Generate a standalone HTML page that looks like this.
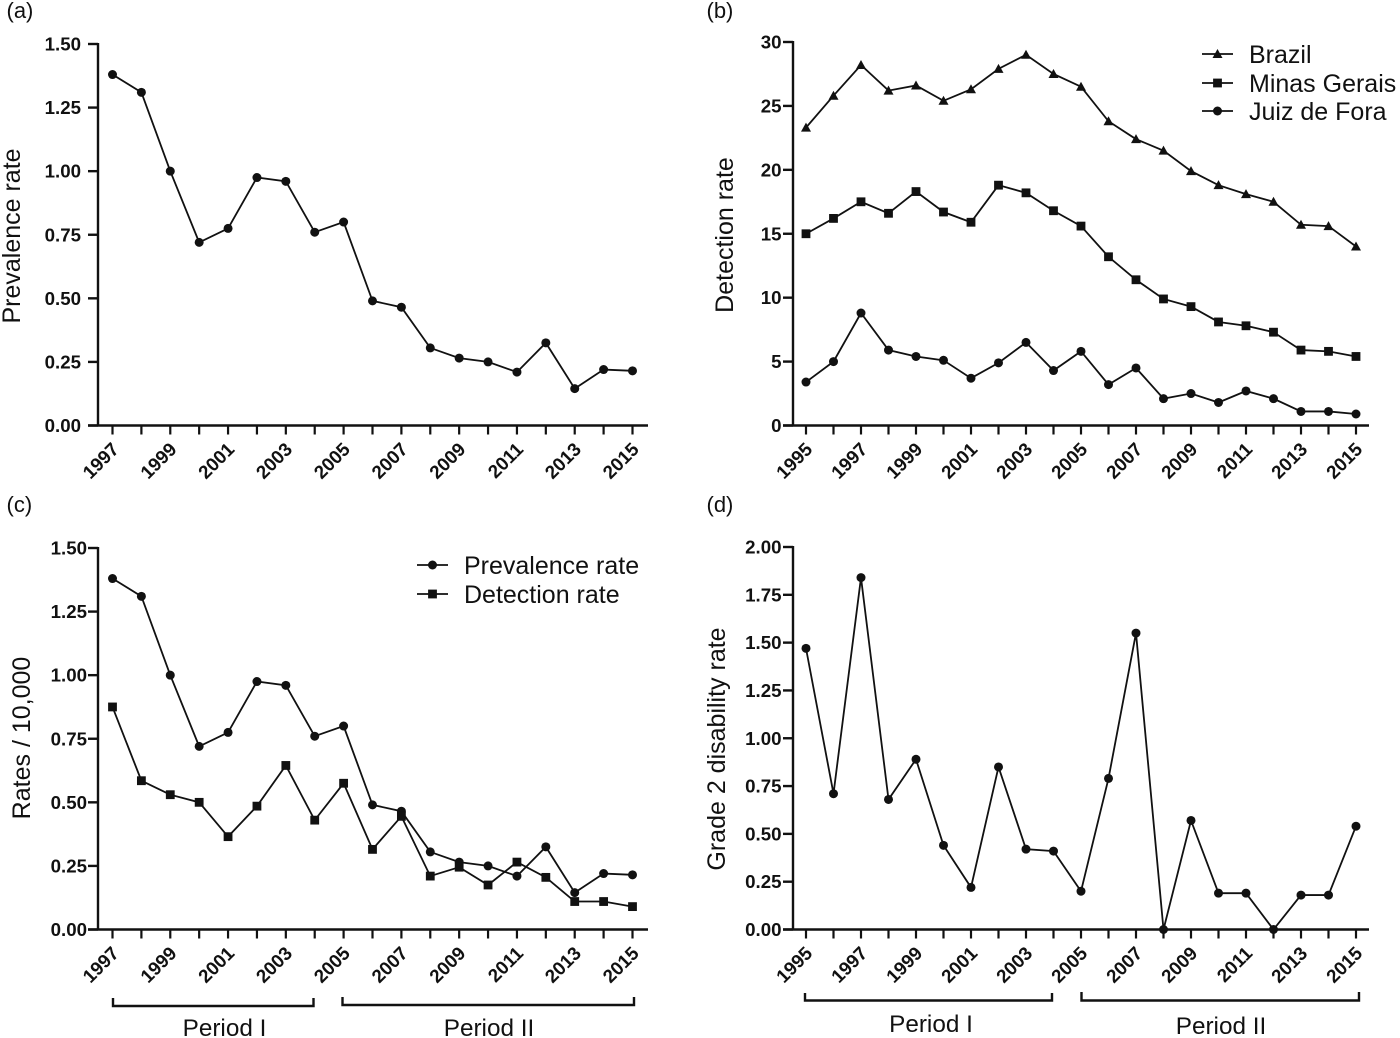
<!DOCTYPE html>
<html lang="en">
<head>
<meta charset="utf-8">
<title>Leprosy rates, four-panel chart</title>
<style>
html,body{margin:0;padding:0;background:#fff;width:1400px;height:1038px;overflow:hidden}
svg{display:block}
text{font-family:"Liberation Sans",sans-serif;fill:#111}
.ytick{font-size:18.7px;font-weight:bold}
.xtick{font-size:18.8px;font-weight:bold}
.title{font-size:25px}
.leg{font-size:25px}
.panel{font-size:22px}
.per{font-size:24.3px}
</style>
</head>
<body>
<svg id="chart" xmlns="http://www.w3.org/2000/svg" width="1400" height="1038" viewBox="0 0 1400 1038">
<text class="panel" x="6.5" y="18">(a)</text>
<text class="panel" x="706.5" y="18">(b)</text>
<text class="panel" x="6.5" y="512">(c)</text>
<text class="panel" x="706.5" y="512">(d)</text>
</svg>
<script>
const yearsLong = [1995,1996,1997,1998,1999,2000,2001,2002,2003,2004,2005,2006,2007,2008,2009,2010,2011,2012,2013,2014,2015];
const yearsShort = [1997,1998,1999,2000,2001,2002,2003,2004,2005,2006,2007,2008,2009,2010,2011,2012,2013,2014,2015];
const prevalence = [1.38,1.31,1.00,0.72,0.775,0.975,0.96,0.76,0.80,0.49,0.465,0.305,0.265,0.25,0.21,0.325,0.145,0.22,0.215];
const detection = [0.875,0.585,0.53,0.50,0.365,0.485,0.645,0.43,0.575,0.315,0.445,0.21,0.245,0.175,0.265,0.205,0.11,0.11,0.09];
const brazil = [23.3,25.8,28.2,26.2,26.6,25.4,26.3,27.9,29.0,27.5,26.5,23.8,22.4,21.5,19.9,18.8,18.1,17.5,15.7,15.6,14.0];
const minasGerais = [15.0,16.2,17.5,16.6,18.3,16.7,15.9,18.8,18.2,16.8,15.6,13.2,11.4,9.9,9.3,8.1,7.8,7.3,5.9,5.8,5.4];
const juizDeFora = [3.4,5.0,8.8,5.9,5.4,5.1,3.7,4.9,6.5,4.3,5.8,3.2,4.5,2.1,2.5,1.8,2.7,2.1,1.1,1.1,0.9];
const grade2 = [1.47,0.71,1.84,0.68,0.89,0.44,0.22,0.85,0.42,0.41,0.20,0.79,1.55,0,0.57,0.19,0.19,0,0.18,0.18,0.54];
const ticksRate150 = [0,0.25,0.5,0.75,1,1.25,1.5];
const ticksDetect30 = [0,5,10,15,20,25,30];
const ticksRate200 = [0,0.25,0.5,0.75,1,1.25,1.5,1.75,2];

const svg = document.getElementById('chart');
const NS = 'http://www.w3.org/2000/svg';
const INK = '#111';

function make(tag, attrs, parent) {
  const el = document.createElementNS(NS, tag);
  for (const k in attrs) el.setAttribute(k, attrs[k]);
  (parent || svg).appendChild(el);
  return el;
}

function marker(shape, x, y, parent) {
  if (shape === 'circle') return make('circle', {cx: x, cy: y, r: 4.5, fill: INK}, parent);
  if (shape === 'square') return make('rect', {x: x - 4.4, y: y - 4.4, width: 8.8, height: 8.8, fill: INK}, parent);
  return make('polygon', {points: `${x},${y - 5} ${x + 5},${y + 4} ${x - 5},${y + 4}`, fill: INK}, parent);
}

function drawSeries(g, name, years, values, shape, xs, ys) {
  const s = make('g', {}, g);
  
  
  const pts = values.map((v, i) => xs(years[i]) + ',' + ys(v)).join(' ');
  const line = make('polyline', {points: pts, fill: 'none', stroke: INK, 'stroke-width': 1.8}, s);
  
  
  values.forEach((v, i) => {
    const m = marker(shape, xs(years[i]), ys(v), s);
    
    
  });
}

function drawPanel(p) {
  const g = make('g', {});
  
  
  const span = p.years[p.years.length - 1] - p.years[0];
  const xs = y => p.xFirst + (y - p.years[0]) * (p.xLast - p.xFirst) / span;
  const ys = v => p.y0 - (v - p.ticks[0]) * (p.y0 - p.yTop) / (p.ticks[p.ticks.length - 1] - p.ticks[0]);

  const yAxis = make('line', {x1: p.axisX, x2: p.axisX, y1: p.yTop - 1, y2: p.y0 + 1, stroke: INK, 'stroke-width': 2.4}, g);
  
  
  const xAxis = make('line', {x1: p.axisX - 10, x2: p.xEnd, y1: p.y0, y2: p.y0, stroke: INK, 'stroke-width': 2.4}, g);
  
  

  p.ticks.forEach(t => {
    const y = ys(t);
    const tk = make('line', {x1: p.axisX - 10, x2: p.axisX, y1: y, y2: y, stroke: INK, 'stroke-width': 2.4}, g);
    
    
    const lb = make('text', {class: 'ytick', x: p.labelX, y: y + 6.5, 'text-anchor': 'end'}, g);
    lb.textContent = t.toFixed(p.decimals);
    
    
  });

  p.years.forEach((yr, i) => {
    const x = xs(yr);
    const tk = make('line', {x1: x, x2: x, y1: p.y0, y2: p.y0 + 9, stroke: INK, 'stroke-width': 2.2}, g);
    
    
    if (i % 2 === 0) {
      const lx = x + 7.5, ly = p.y0 + 25;
      const lb = make('text', {class: 'xtick', x: lx, y: ly, 'text-anchor': 'end', transform: `rotate(-45 ${lx} ${ly})`}, g);
      lb.textContent = yr;
      
      
    }
  });

  const title = make('text', {class: 'title', x: p.titleX, y: p.titleY, 'text-anchor': 'middle', transform: `rotate(-90 ${p.titleX} ${p.titleY})`}, g);
  title.textContent = p.title;
  
  

  p.series.forEach(s => drawSeries(g, s.name, p.years, s.values, s.shape, xs, ys));
  return g;
}

function legendEntry(label, shape, x0, y, textX, textY) {
  const g = make('g', {});
  
  
  make('line', {x1: x0, x2: x0 + 31, y1: y, y2: y, stroke: INK, 'stroke-width': 1.8}, g);
  marker(shape, x0 + 15.5, y, g);
  const t = make('text', {class: 'leg', x: textX, y: textY}, g);
  t.textContent = label;
}

function bracket(x1, x2, yTop, yBot, label, labelX, labelY) {
  const g = make('g', {});
  
  
  make('polyline', {points: `${x1},${yTop} ${x1},${yBot} ${x2},${yBot} ${x2},${yTop}`, fill: 'none', stroke: INK, 'stroke-width': 2.4}, g);
  const t = make('text', {class: 'per', x: labelX, y: labelY, 'text-anchor': 'middle'}, g);
  t.textContent = label;
}

drawPanel({name: 'panel-a-prevalence', years: yearsShort, ticks: ticksRate150, decimals: 2,
  axisX: 98, labelX: 81, xEnd: 648, xFirst: 112.5, xLast: 632.5, y0: 425.5, yTop: 44,
  title: 'Prevalence rate', titleX: 20, titleY: 236,
  series: [{name: 'prevalence-series', values: prevalence, shape: 'circle'}]});

drawPanel({name: 'panel-b-detection', years: yearsLong, ticks: ticksDetect30, decimals: 0,
  axisX: 793, labelX: 781.5, xEnd: 1369, xFirst: 806, xLast: 1356, y0: 425.5, yTop: 42,
  title: 'Detection rate', titleX: 733, titleY: 235,
  series: [
    {name: 'brazil-series', values: brazil, shape: 'triangle'},
    {name: 'minas-gerais-series', values: minasGerais, shape: 'square'},
    {name: 'juiz-de-fora-series', values: juizDeFora, shape: 'circle'}
  ]});

drawPanel({name: 'panel-c-rates', years: yearsShort, ticks: ticksRate150, decimals: 2,
  axisX: 98, labelX: 87, xEnd: 648, xFirst: 112.5, xLast: 632.5, y0: 929.5, yTop: 548,
  title: 'Rates / 10,000', titleX: 30, titleY: 738,
  series: [
    {name: 'prevalence-rate-series', values: prevalence, shape: 'circle'},
    {name: 'detection-rate-series', values: detection, shape: 'square'}
  ]});

drawPanel({name: 'panel-d-grade2', years: yearsLong, ticks: ticksRate200, decimals: 2,
  axisX: 793, labelX: 781.5, xEnd: 1369, xFirst: 806, xLast: 1356, y0: 929.5, yTop: 547,
  title: 'Grade 2 disability rate', titleX: 725, titleY: 749,
  series: [{name: 'grade-2-series', values: grade2, shape: 'circle'}]});

legendEntry('Brazil', 'triangle', 1202, 54, 1249, 63);
legendEntry('Minas Gerais', 'square', 1202, 83, 1249, 92);
legendEntry('Juiz de Fora', 'circle', 1202, 111, 1249, 120);
legendEntry('Prevalence rate', 'circle', 417, 565, 464, 574);
legendEntry('Detection rate', 'square', 417, 594, 464, 603);

bracket(113, 313.5, 998, 1006, 'Period I', 224.5, 1036);
bracket(342.5, 634, 997, 1005, 'Period II', 489, 1036);
bracket(805, 1052, 993, 1000.5, 'Period I', 931, 1032);
bracket(1081.5, 1359, 992, 1000.5, 'Period II', 1221, 1034);
</script>
</body>
</html>
